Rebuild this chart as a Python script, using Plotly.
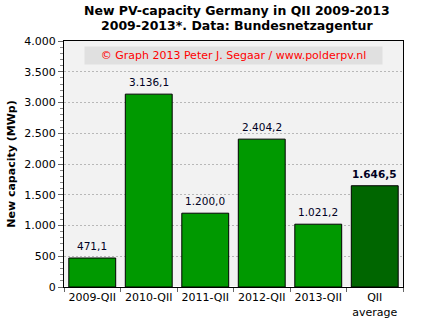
import plotly.graph_objects as go

categories = ["2009-QII", "2010-QII", "2011-QII", "2012-QII", "2013-QII", "QII<br>average"]
values = [471.1, 3136.1, 1200.0, 2404.2, 1021.2, 1646.5]
colors = ["#009900", "#009900", "#009900", "#009900", "#009900", "#006600"]
y_ticks = [0, 500, 1000, 1500, 2000, 2500, 3000, 3500, 4000]
title_lines = ["New PV-capacity Germany in QII 2009-2013", "2009-2013*. Data: Bundesnetzagentur"]


def fmt(v):
    s = f"{v:,.1f}"
    return s.replace(",", "X").replace(".", ",").replace("X", ".")


labels = [fmt(v) for v in values]
labels[-1] = "<b>" + labels[-1] + "</b>"
tick_text = [fmt(t)[:-2] for t in y_ticks]

font = "DejaVu Sans, Verdana, sans-serif"

fig = go.Figure(go.Bar(
    x=categories, y=values,
    marker=dict(color=colors, line=dict(color="black", width=1)),
    hoverinfo="x+y",
))

annotations = []
for c, v, t in zip(categories, values, labels):
    annotations.append(dict(
        x=c, y=v, xref="x", yref="y", text=t, showarrow=False,
        yanchor="middle", yshift=12,
        font=dict(family=font, size=10.5, color="#000022"),
    ))

for line, yp in zip(title_lines, [1.126, 1.065]):
    annotations.append(dict(
        text="<b>" + line + "</b>", xref="paper", yref="paper",
        x=0.51, y=yp, xanchor="center", yanchor="middle", showarrow=False,
        font=dict(family=font, size=12.5, color="black"),
    ))

annotations.append(dict(
    text="© Graph 2013 Peter J. Segaar / www.polderpv.nl",
    xref="paper", yref="paper", x=0.5, y=0.941, xanchor="center", yanchor="middle",
    showarrow=False, bgcolor="#e0e0e0", width=295, height=15,
    font=dict(family=font, size=11, color="#ff0000"),
))

fig.update_layout(
    width=421, height=331,
    margin=dict(l=64, r=18, t=41, b=44),
    paper_bgcolor="white", plot_bgcolor="#f2f2f2",
    bargap=0.17, showlegend=False,
    font=dict(family=font, size=11, color="black"),
    xaxis=dict(
        showline=True, linecolor="black", mirror=True, tickangle=0,
        ticks="outside", tickson="boundaries", ticklen=4, tickcolor="#666",
        tickfont=dict(size=11),
    ),
    yaxis=dict(
        range=[0, 4000], tickvals=y_ticks, ticktext=tick_text,
        showline=True, linecolor="black", mirror=True,
        ticks="outside", ticklen=5, tickcolor="#666",
        showgrid=True, gridcolor="#b8b8b8", griddash="2px,2px", gridwidth=1,
        minor=dict(dtick=100, ticks="outside", ticklen=3, tickcolor="#888", showgrid=False),
        tickfont=dict(size=11),
        title=dict(text="<b>New capacity (MWp)</b>", font=dict(size=11), standoff=6),
    ),
    annotations=annotations,
)

fig.write_html("out.html")
